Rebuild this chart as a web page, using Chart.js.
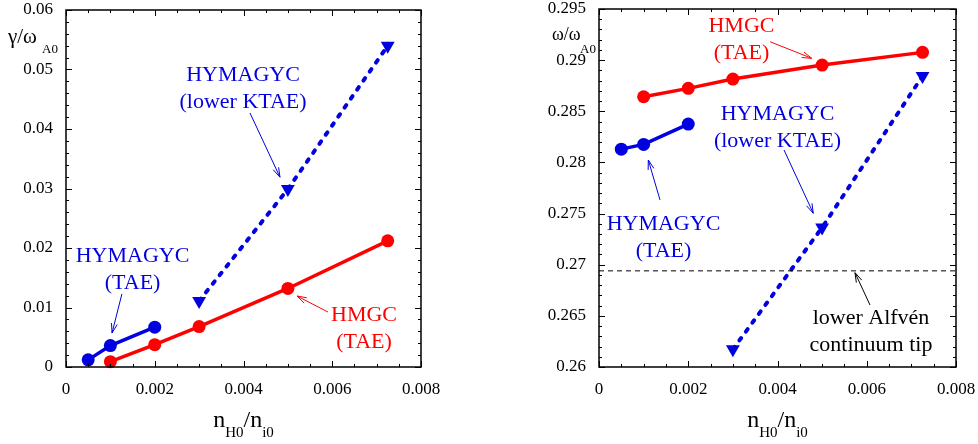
<!DOCTYPE html>
<html>
<head>
<meta charset="utf-8">
<script src="https://cdn.jsdelivr.net/npm/chart.js@4.4.1/dist/chart.umd.min.js"></script>
<style>
  html, body { margin: 0; padding: 0; background: #fff; }
  #wrap { position: relative; width: 978px; height: 444px; }
  .panel { position: absolute; top: 0; width: 489px; height: 444px; }
</style>
</head>
<body>
<div id="wrap">
  <div class="panel" style="left:0"><canvas id="chart-growth"></canvas></div>
  <div class="panel" style="left:489px"><canvas id="chart-freq"></canvas></div>
</div>
<script>
// data
const nHymTae = [0.0005, 0.001, 0.002];
const nHmgc = [0.001, 0.002, 0.003, 0.005, 0.00725];
const nKtae = [0.003, 0.005, 0.00725];

const gammaHymTae = [0.0012, 0.0036, 0.0067];
const gammaHmgc = [0.0009, 0.00375, 0.0068, 0.0132, 0.0212];
const gammaKtae = [0.0111, 0.0299, 0.0540];

const omegaHymTae = [0.2813, 0.28176, 0.28375];
const omegaHmgc = [0.28642, 0.28724, 0.28815, 0.28952, 0.29076];
const omegaKtae = [0.26173, 0.27364, 0.28844];

const alfvenTipX = [0, 0.008];
const alfvenTip = [0.2694, 0.2694];

const xTickLabels = ['0', '0.002', '0.004', '0.006', '0.008'];
const gammaTickLabels = ['0', '0.01', '0.02', '0.03', '0.04', '0.05', '0.06'];
const omegaTickLabels = ['0.26', '0.265', '0.27', '0.275', '0.28', '0.285', '0.29', '0.295'];

const BLUE = '#0000e0';
const RED = '#ff0000';
const SERIF = '"Liberation Serif", "Times New Roman", serif';

function pts(xs, ys) {
  return xs.map((x, i) => ({ x: x, y: ys[i] }));
}

// annotation text + arrows, in data coordinates
const growthNotes = [
  { lines: ['HYMAGYC', '(lower KTAE)'], color: BLUE, at: [0.00399, 0.0491], arrow: [[0.004146, 0.0427], [0.004822, 0.0319]] },
  { lines: ['HYMAGYC', '(TAE)'], color: BLUE, at: [0.0015, 0.01866], arrow: [[0.00126, 0.01227], [0.001037, 0.00571]] },
  { lines: ['HMGC', '(TAE)'], color: RED, at: [0.006716, 0.00874], arrow: [[0.005904, 0.00924], [0.005206, 0.01193]] },
];
const freqNotes = [
  { lines: ['HMGC', '(TAE)'], color: RED, at: [0.003193, 0.29334], arrow: [[0.003834, 0.29180], [0.004766, 0.29018]] },
  { lines: ['HYMAGYC', '(lower KTAE)'], color: BLUE, at: [0.004, 0.28469], arrow: [[0.004146, 0.28122], [0.004802, 0.27503]] },
  { lines: ['HYMAGYC', '(TAE)'], color: BLUE, at: [0.001445, 0.27398], arrow: [[0.001367, 0.27633], [0.001105, 0.28024]] },
  { lines: ['lower Alfvén', 'continuum tip'], color: '#000', at: [0.006095, 0.26479], arrow: [[0.006073, 0.26606], [0.005737, 0.26922]] },
];

// frame with inward ticks on all four sides
const frameTicks = {
  id: 'frameTicks',
  afterDatasetsDraw(chart, args, opts) {
    const { ctx, chartArea: a, scales } = chart;
    ctx.save();
    ctx.strokeStyle = '#000';
    ctx.lineWidth = 1;
    ['x', 'y'].forEach(function (id) {
      const s = scales[id];
      const o = opts[id];
      const n = Math.round((s.max - s.min) / o.minor);
      const every = Math.round(o.major / o.minor);
      for (let i = 0; i <= n; i++) {
        const v = s.min + i * o.minor;
        const len = i % every === 0 ? 6 : 3;
        const p = Math.round(s.getPixelForValue(v)) + 0.5;
        ctx.beginPath();
        if (id === 'x') {
          ctx.moveTo(p, a.bottom); ctx.lineTo(p, a.bottom - len);
          ctx.moveTo(p, a.top); ctx.lineTo(p, a.top + len);
        } else {
          ctx.moveTo(a.left, p); ctx.lineTo(a.left + len, p);
          ctx.moveTo(a.right, p); ctx.lineTo(a.right - len, p);
        }
        ctx.stroke();
      }
    });
    ctx.lineWidth = 1.5;
    ctx.strokeRect(a.left, a.top, a.right - a.left, a.bottom - a.top);
    ctx.restore();
  }
};

function drawParts(ctx, parts, x) {
  parts.forEach(function (p) {
    ctx.font = p.size + 'px ' + SERIF;
    ctx.fillText(p.t, x, p.y);
    x += ctx.measureText(p.t).width;
  });
}

// axis titles with subscripts
const axisTitles = {
  id: 'axisTitles',
  afterDraw(chart, args, opts) {
    const { ctx, chartArea: a } = chart;
    ctx.save();
    ctx.fillStyle = '#000';
    ctx.textBaseline = 'alphabetic';
    ctx.textAlign = 'left';
    const yt = opts.y;
    ctx.font = yt.size + 'px ' + SERIF;
    ctx.fillText(yt.main, a.left + yt.dx, a.top + yt.dy);
    ctx.font = '13px ' + SERIF;
    ctx.fillText('A0', a.left + yt.subDx, a.top + yt.subDy);

    const base = a.bottom + 60;
    const parts = [
      { t: 'n', size: 24, y: base },
      { t: 'H0', size: 15, y: base + 10 },
      { t: '/n', size: 24, y: base },
      { t: 'i0', size: 15, y: base + 10 },
    ];
    let w = 0;
    parts.forEach(function (p) { ctx.font = p.size + 'px ' + SERIF; w += ctx.measureText(p.t).width; });
    drawParts(ctx, parts, (a.left + a.right) / 2 - w / 2);
    ctx.restore();
  }
};

function drawArrow(ctx, x0, y0, x1, y1) {
  ctx.beginPath();
  ctx.moveTo(x0, y0);
  ctx.lineTo(x1, y1);
  ctx.stroke();
  const ang = Math.atan2(y1 - y0, x1 - x0);
  const len = 10, spread = 0.3;
  ctx.beginPath();
  ctx.moveTo(x1 - len * Math.cos(ang - spread), y1 - len * Math.sin(ang - spread));
  ctx.lineTo(x1, y1);
  ctx.lineTo(x1 - len * Math.cos(ang + spread), y1 - len * Math.sin(ang + spread));
  ctx.stroke();
}

const notesPlugin = {
  id: 'notes',
  afterDraw(chart, args, opts) {
    const { ctx, scales: { x, y } } = chart;
    ctx.save();
    ctx.textAlign = 'center';
    ctx.textBaseline = 'middle';
    ctx.font = '22px ' + SERIF;
    opts.items.forEach(function (n) {
      ctx.fillStyle = n.color;
      ctx.strokeStyle = n.color;
      ctx.lineWidth = 1;
      const px = x.getPixelForValue(n.at[0]);
      const py = y.getPixelForValue(n.at[1]);
      n.lines.forEach(function (t, i) { ctx.fillText(t, px, py + i * 27); });
      drawArrow(ctx,
        x.getPixelForValue(n.arrow[0][0]), y.getPixelForValue(n.arrow[0][1]),
        x.getPixelForValue(n.arrow[1][0]), y.getPixelForValue(n.arrow[1][1]));
    });
    ctx.restore();
  }
};

function solidSet(xs, ys, color) {
  return {
    data: pts(xs, ys), borderColor: color, backgroundColor: color,
    borderWidth: 3.5, pointRadius: 6.5, pointStyle: 'circle', pointBorderWidth: 0, clip: false
  };
}
function dashedSet(xs, ys) {
  return {
    data: pts(xs, ys), borderColor: BLUE, backgroundColor: BLUE,
    borderWidth: 4, borderDash: [3, 8], borderCapStyle: 'round',
    pointRadius: 8, pointStyle: 'triangle', rotation: 180, pointBorderWidth: 0, clip: false
  };
}

function axis(min, max, step, labels, fitKey, fitVal, pad) {
  return {
    type: 'linear', min: min, max: max,
    grid: { display: false, drawTicks: false },
    border: { display: false },
    afterFit: function (s) {
      s[fitKey] = fitVal;
      s.paddingTop = 0; s.paddingBottom = 0; s.paddingLeft = 0; s.paddingRight = 0;
    },
    ticks: {
      stepSize: step, padding: pad, color: '#000',
      font: { family: SERIF, size: 17, lineHeight: 1 },
      callback: function (v) { return labels[Math.round((v - min) / step)]; }
    }
  };
}

function makeChart(id, datasets, yMin, yMax, yStep, yLabels, yMinor, yWidth, pad, title, notes) {
  return new Chart(document.getElementById(id), {
    type: 'line',
    data: { datasets: datasets },
    options: {
      responsive: true,
      maintainAspectRatio: false,
      animation: false,
      events: [],
      layout: { padding: pad },
      plugins: {
        legend: { display: false },
        tooltip: { enabled: false },
        frameTicks: { x: { major: 0.002, minor: 0.0005 }, y: { major: yStep, minor: yMinor } },
        axisTitles: { y: title },
        notes: { items: notes }
      },
      scales: {
        x: axis(0, 0.008, 0.002, xTickLabels, 'height', 77, 14),
        y: axis(yMin, yMax, yStep, yLabels, 'width', yWidth, 13)
      }
    },
    plugins: [frameTicks, axisTitles, notesPlugin]
  });
}

makeChart('chart-growth', [
  solidSet(nHmgc, gammaHmgc, RED),
  solidSet(nHymTae, gammaHymTae, BLUE),
  dashedSet(nKtae, gammaKtae)
], 0, 0.06, 0.01, gammaTickLabels, 0.002, 66,
  { left: 0, right: 68, top: 10, bottom: 0 },
  { main: 'γ/ω', size: 21, dx: -58, dy: 33, subDx: -24, subDy: 43 },
  growthNotes);

makeChart('chart-freq', [
  {
    data: pts(alfvenTipX, alfvenTip), borderColor: '#000', borderWidth: 1,
    borderDash: [5, 4], pointRadius: 0
  },
  solidSet(nHmgc, omegaHmgc, RED),
  solidSet(nHymTae, omegaHymTae, BLUE),
  dashedSet(nKtae, omegaKtae)
], 0.26, 0.295, 0.005, omegaTickLabels, 0.001, 110,
  { left: 0, right: 22, top: 9, bottom: 0 },
  { main: 'ω/ω', size: 18, dx: -47, dy: 31, subDx: -19, subDy: 44 },
  freqNotes);
</script>
</body>
</html>
